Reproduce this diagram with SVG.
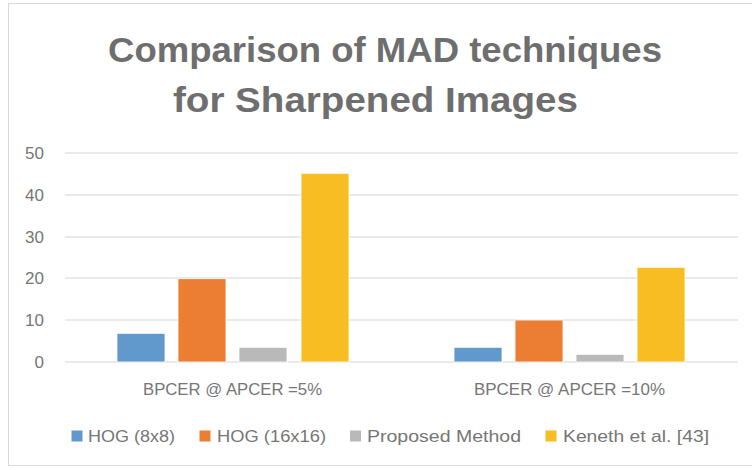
<svg xmlns="http://www.w3.org/2000/svg" width="752" height="470" viewBox="0 0 752 470">
<style>
.t{font-family:"Liberation Sans",Arial,sans-serif;font-weight:bold;font-size:35px;fill:#6E6E6E;text-anchor:middle}
.ax{font-family:"Liberation Sans",Arial,sans-serif;font-size:17px;fill:#767676}
.grid{stroke:#E3E3E3;stroke-width:1.5}
.b1{fill:#6199CC}.b2{fill:#EC7E33}.b3{fill:#B9B9B9}.b4{fill:#F8BD22}
.bar{stroke:#FFFFFF;stroke-width:0.8}
</style>
<rect x="0" y="0" width="752" height="470" fill="#FFFFFF"/>
<rect x="8.5" y="3.5" width="748" height="462" fill="#FFFFFF" stroke="#D9D9D9" stroke-width="1"/>
<g id="title">
<text class="t" x="385" y="62" textLength="554" lengthAdjust="spacingAndGlyphs">Comparison of MAD techniques</text>
<text class="t" x="375.5" y="112" textLength="405" lengthAdjust="spacingAndGlyphs">for Sharpened Images</text>
</g>
<g id="gridlines">
<line class="grid" x1="65" y1="153" x2="738" y2="153"/>
<line class="grid" x1="65" y1="195" x2="738" y2="195"/>
<line class="grid" x1="65" y1="237" x2="738" y2="237"/>
<line class="grid" x1="65" y1="278" x2="738" y2="278"/>
<line class="grid" x1="65" y1="320" x2="738" y2="320"/>
<line class="grid" x1="65" y1="362" x2="738" y2="362"/>
</g>
<g id="y-axis" class="ax" text-anchor="end">
<text x="44" y="159">50</text>
<text x="44" y="201">40</text>
<text x="44" y="243">30</text>
<text x="44" y="284">20</text>
<text x="44" y="326">10</text>
<text x="44" y="368">0</text>
</g>
<g id="bars-5pct">
<rect class="bar b1" x="117" y="333.3" width="48" height="28.7"/>
<rect class="bar b2" x="178" y="278.7" width="48" height="83.3"/>
<rect class="bar b3" x="239" y="347.3" width="48" height="14.7"/>
<rect class="bar b4" x="301" y="173.3" width="48" height="188.7"/>
</g>
<g id="bars-10pct">
<rect class="bar b1" x="454" y="347.3" width="48" height="14.7"/>
<rect class="bar b2" x="515" y="320" width="48" height="42"/>
<rect class="bar b3" x="576" y="354.3" width="48" height="7.7"/>
<rect class="bar b4" x="637" y="267.3" width="48" height="94.7"/>
</g>
<g id="categories" class="ax" text-anchor="middle">
<text x="232.5" y="395" textLength="179" lengthAdjust="spacingAndGlyphs">BPCER @ APCER =5%</text>
<text x="569.5" y="395" textLength="191" lengthAdjust="spacingAndGlyphs">BPCER @ APCER =10%</text>
</g>
<g id="legend" class="ax">
<rect class="b1" x="71.5" y="430.5" width="11" height="11"/>
<text x="88" y="442" textLength="87" lengthAdjust="spacingAndGlyphs">HOG (8x8)</text>
<rect class="b2" x="199.5" y="430.5" width="11" height="11"/>
<text x="217" y="442" textLength="109" lengthAdjust="spacingAndGlyphs">HOG (16x16)</text>
<rect class="b3" x="350" y="430.5" width="11" height="11"/>
<text x="367" y="442" textLength="154" lengthAdjust="spacingAndGlyphs">Proposed Method</text>
<rect class="b4" x="545.5" y="430.5" width="11" height="11"/>
<text x="563" y="442" textLength="146" lengthAdjust="spacingAndGlyphs">Keneth et al. [43]</text>
</g>
</svg>
